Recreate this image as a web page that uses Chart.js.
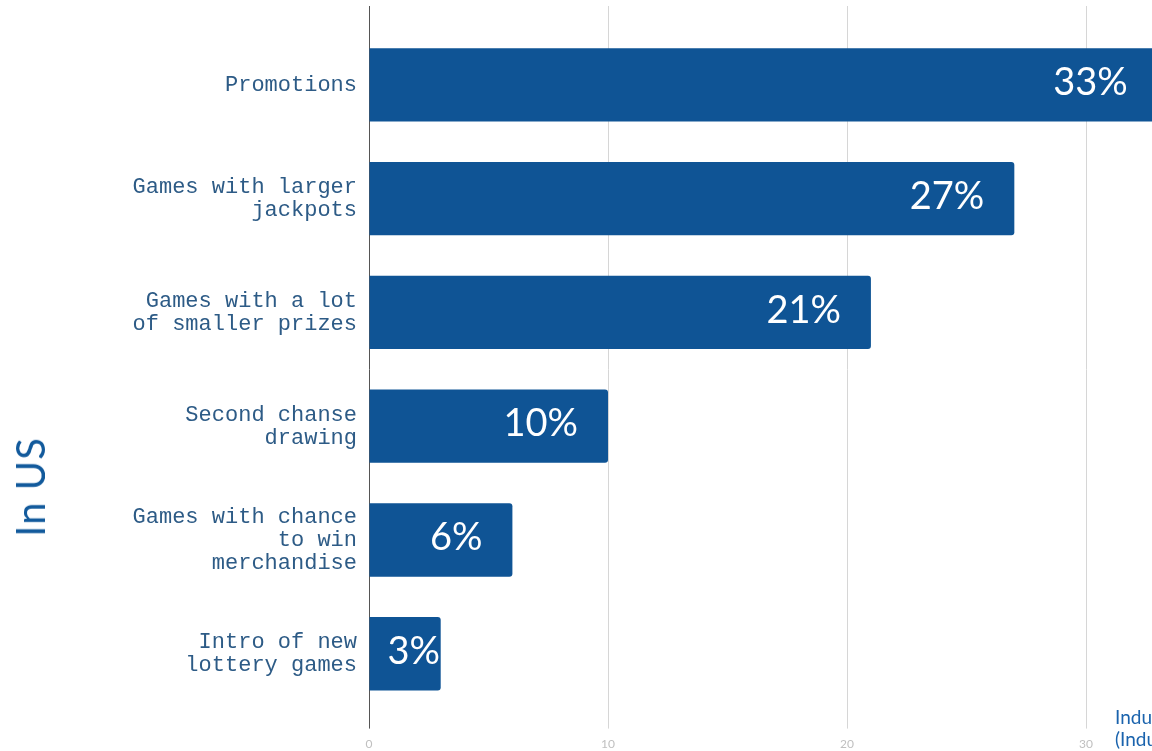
<!DOCTYPE html>
<html>
<head>
<meta charset="utf-8">
<script src="https://cdn.jsdelivr.net/npm/chart.js@4/dist/chart.umd.min.js"></script>
<style>
  body { margin: 0; width: 1152px; height: 751px; overflow: hidden; background: #fff; position: relative; }
  #grafica { position: absolute; left: 0; top: 0; }
  #tituloEje {
    position: absolute; left: 30px; top: 487px;
    transform: translate(-50%, -50%) rotate(-90deg);
    font-family: Lato, sans-serif; font-size: 40px; letter-spacing: 1px; color: #125a9c; white-space: nowrap; line-height: 1;
  }
  #notaFuente {
    position: absolute; left: 1115px; top: 706px;
    font-family: Lato, sans-serif; font-size: 19px; line-height: 22px; color: #1a63ad; white-space: nowrap;
  }
</style>
</head>
<body>
<canvas id="grafica" width="1340" height="751"></canvas>
<div id="tituloEje">In US</div>
<div id="notaFuente">Industry average<br>(Industry survey)</div>
<script>
//Categorías del eje vertical (con saltos de línea)
const categorias = [
    'Promotions',
    ['Games with larger', 'jackpots'],
    ['Games with a lot', 'of smaller prizes'],
    ['Second chanse', 'drawing'],
    ['Games with chance', 'to win', 'merchandise'],
    ['Intro of new', 'lottery games']
];

//Porcentajes de cada barra
const valores = [33, 27, 21, 10, 6, 3];

//Marcas del eje horizontal
const marcasX = [0, 10, 20, 30, 40];

const azul = '#0f5495';

//Color de la cuadrícula: la línea del 0 es más oscura
const colorRejilla = ctx => (ctx.tick && ctx.tick.value === 0) ? '#555' : '#d6d6d6';

//Plugin para escribir el porcentaje dentro de cada barra
const etiquetasBarras = {
    id: 'etiquetasBarras',
    afterDatasetsDraw(chart) {
        const ctx = chart.ctx;
        const meta = chart.getDatasetMeta(0);
        ctx.save();
        ctx.font = '38px Lato';
        ctx.fillStyle = '#fff';
        ctx.textAlign = 'right';
        ctx.textBaseline = 'middle';
        meta.data.forEach((barra, i) => {
            const texto = valores[i] + '%';
            const ancho = ctx.measureText(texto).width;
            const x = Math.max(barra.x - 30, barra.base + 18 + ancho);
            ctx.fillText(texto, x, barra.y - 2);
        });
        ctx.restore();
    }
};

new Chart(document.getElementById('grafica'), {
    type: 'bar',
    data: {
        labels: categorias,
        datasets: [{
            data: valores,
            backgroundColor: azul,
            borderRadius: 3,
            barPercentage: 0.645,
            categoryPercentage: 1
        }]
    },
    plugins: [etiquetasBarras],
    options: {
        indexAxis: 'y',
        responsive: false,
        animation: false,
        layout: { padding: { top: 6, right: 11, bottom: -8, left: 0 } },
        plugins: {
            legend: { display: false },
            tooltip: { enabled: false }
        },
        scales: {
            x: {
                position: 'bottom',
                min: marcasX[0],
                max: marcasX[marcasX.length - 1],
                afterBuildTicks: escala => { escala.ticks = marcasX.map(v => ({ value: v })); },
                border: { display: false },
                grid: { color: colorRejilla, tickLength: 18 },
                ticks: {
                    padding: 8,
                    color: '#c0c0c0',
                    font: { family: 'Lato', size: 12 }
                }
            },
            x2: {
                position: 'top',
                min: marcasX[0],
                max: marcasX[marcasX.length - 1],
                afterBuildTicks: escala => { escala.ticks = marcasX.map(v => ({ value: v })); },
                border: { display: false },
                grid: { color: colorRejilla, tickLength: 22, drawOnChartArea: false },
                ticks: { display: false }
            },
            y: {
                afterFit: escala => {
                    escala.width = 369;
                    escala.paddingTop = 0;
                    escala.paddingBottom = 0;
                },
                border: { display: false },
                grid: { display: false, drawTicks: false },
                ticks: {
                    padding: 12,
                    color: '#2d5b86',
                    font: { family: 'Liberation Mono', size: 22, lineHeight: 1.045 }
                }
            }
        }
    }
});
</script>
</body>
</html>
